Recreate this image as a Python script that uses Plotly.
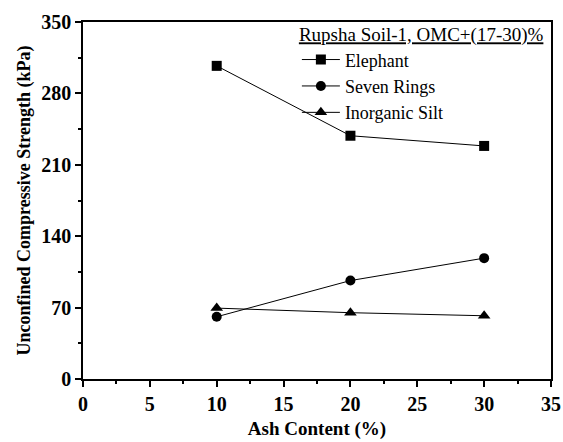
import plotly.graph_objects as go

ash = [10, 20, 30]
elephant = [307, 238.5, 228.5]
seven_rings = [61, 96.5, 118.5]
inorganic_silt = [69.5, 65, 62]

series = [
    ("Elephant", elephant, "square"),
    ("Seven Rings", seven_rings, "circle"),
    ("Inorganic Silt", inorganic_silt, "triangle-up"),
]

fig = go.Figure()
for name, vals, sym in series:
    fig.add_trace(go.Scatter(
        x=ash, y=vals, name=name, mode="lines+markers",
        line=dict(color="black", width=1),
        marker=dict(symbol=sym, size=10 if sym != "triangle-up" else 11, color="black"),
    ))

font = "Liberation Serif"
tick_font = dict(family="Liberation Serif", size=20, color="black", weight=700)

fig.update_layout(
    width=563, height=442,
    margin=dict(l=83, r=12, t=22, b=63, autoexpand=False),
    plot_bgcolor="white", paper_bgcolor="white",
    font=dict(family=font, color="black", size=14),
    xaxis=dict(
        range=[0, 35], tick0=0, dtick=5,
        showline=True, linecolor="black", linewidth=1.5, mirror=True,
        ticks="outside", ticklen=6, tickwidth=1.5, tickcolor="black",
        showgrid=False, zeroline=False, automargin=False,
        tickfont=tick_font,
        minor=dict(ticks="outside", ticklen=3, tickcolor="black", dtick=2.5, tick0=0),
        title=dict(text="<b>Ash Content (%)</b>", font=dict(family=font, size=19, color="black"), standoff=8),
    ),
    yaxis=dict(
        range=[0, 350], tick0=0, dtick=70,
        showline=True, linecolor="black", linewidth=1.5, mirror=True,
        ticks="outside", ticklen=6, tickwidth=1.5, tickcolor="black",
        showgrid=False, zeroline=False, automargin=False,
        tickfont=tick_font,
        minor=dict(ticks="outside", ticklen=3, tickcolor="black", dtick=35, tick0=0),
        title=dict(text="<b>Unconfined Compressive Strength (kPa)</b>", font=dict(family=font, size=18, color="black"), standoff=6),
    ),
    legend=dict(
        x=0.457, y=1.015, xanchor="left", yanchor="top",
        bgcolor="rgba(0,0,0,0)",
        font=dict(family=font, size=18, color="black"),
        title=dict(text="<u>Rupsha Soil-1, OMC+(17-30)%</u>", font=dict(family=font, size=19, color="black"), side="top"),
        tracegroupgap=0, itemwidth=38,
    ),
)
fig.write_html("out.html")
